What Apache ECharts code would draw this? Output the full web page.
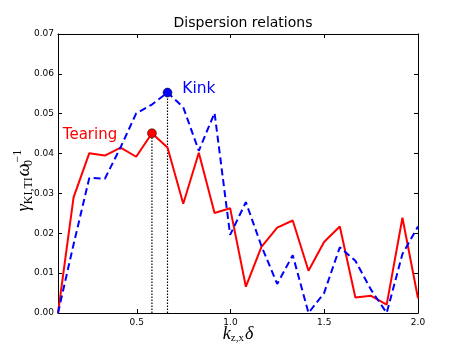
<!DOCTYPE html>
<html>
<head>
<meta charset="utf-8">
<script src="https://cdn.jsdelivr.net/npm/echarts@6/dist/echarts.min.js"></script>
<style>
  html, body { margin: 0; padding: 0; background: #fff; }
  #chart { width: 463px; height: 349px; }
</style>
</head>
<body>
<div id="chart"></div>
<script>
// wavenumbers k_{z,x} delta
const kValues = [0.080, 0.163, 0.247, 0.330, 0.414, 0.497, 0.581, 0.664, 0.748, 0.831, 0.915, 0.998,
  1.082, 1.165, 1.249, 1.332, 1.416, 1.499, 1.583, 1.666, 1.750, 1.833, 1.917, 2.000];
// growth rates, tearing (red, solid)
const tearing = [0, 0.0290, 0.0401, 0.0395, 0.0415, 0.0392, 0.0451, 0.0415, 0.0274, 0.0402, 0.0251, 0.0263,
  0.0066, 0.0166, 0.0214, 0.0232, 0.0106, 0.0178, 0.0217, 0.0039, 0.0043, 0.0021, 0.0239, 0.0037];
// growth rates, kink (blue, dashed)
const kink = [0, 0.0172, 0.0339, 0.0337, 0.0416, 0.0501, 0.0523, 0.0553, 0.0516, 0.0407, 0.0502, 0.0196,
  0.0278, 0.0168, 0.0073, 0.0145, 0.0, 0.0050, 0.0165, 0.0131, 0.0058, 0.0, 0.0148, 0.0217];
const xTicks = [0.5, 1.0, 1.5, 2.0];

function pairs(ys) {
  return ys.map((y, i) => [kValues[i], y]);
}

// find the peak of each mode
function peak(ys) {
  let best = 0;
  ys.forEach((y, i) => { if (y > ys[best]) best = i; });
  return [kValues[best], ys[best]];
}
const tearPeak = peak(tearing);
const kinkPeak = peak(kink);

const chart = echarts.init(document.getElementById("chart"));
const tickStyle = { inside: true, length: 4, lineStyle: { color: "#000", width: 1 } };
const lineStyleAxis = { show: true, onZero: false, lineStyle: { color: "#000", width: 1 } };
const labelFont = { color: "#000", fontSize: 9, fontFamily: "DejaVu Sans" };

const option = {
  animation: false,
  backgroundColor: "#fff",
  title: {
    text: "Dispersion relations",
    left: 238,
    textAlign: "center",
    top: 11,
    textStyle: { fontFamily: "DejaVu Sans", fontSize: 14, fontWeight: "normal", color: "#000" },
  },
  grid: { left: 58, right: 45, top: 34, bottom: 36, show: false, outerBoundsMode: "none", containLabel: false },
  xAxis: [
    {
      type: "value",
      min: 0.08,
      max: 2.0,
      position: "bottom",
      axisLine: lineStyleAxis,
      axisTick: Object.assign({ customValues: xTicks }, tickStyle),
      axisLabel: Object.assign({ customValues: xTicks, margin: 5, formatter: (v) => v.toFixed(1) }, labelFont),
      splitLine: { show: false },
      name: "{k|k}{s|z,x}{d|δ}",
      nameLocation: "middle",
      nameGap: 11,
      nameMoveOverlap: false,
      nameTextStyle: {
        rich: {
          k: { fontFamily: "Liberation Serif", fontStyle: "italic", fontSize: 18, color: "#000", verticalAlign: "middle" },
          s: { fontFamily: "Liberation Serif", fontSize: 11, color: "#000", padding: [9, 1, 0, 0], verticalAlign: "middle" },
          d: { fontFamily: "Liberation Serif", fontStyle: "italic", fontSize: 18, color: "#000", verticalAlign: "middle" },
        },
      },
    },
    {
      type: "value",
      min: 0.08,
      max: 2.0,
      position: "top",
      axisLine: lineStyleAxis,
      axisTick: Object.assign({ customValues: xTicks }, tickStyle),
      axisLabel: { show: false },
      splitLine: { show: false },
    },
  ],
  yAxis: [
    {
      type: "value",
      min: 0,
      max: 0.07,
      interval: 0.01,
      position: "left",
      axisLine: lineStyleAxis,
      axisTick: tickStyle,
      axisLabel: Object.assign({ margin: 4, formatter: (v) => v.toFixed(2) }, labelFont),
      splitLine: { show: false },
      name: "{g|γ}{s|KI,TI}{w|ω}{z|0}{p|−1}",
      nameLocation: "middle",
      nameRotate: 90,
      nameGap: 21,
      nameMoveOverlap: false,
      nameTextStyle: {
        padding: [0, 14, 0, 0],
        rich: {
          g: { fontFamily: "Liberation Serif", fontStyle: "italic", fontSize: 18, color: "#000", verticalAlign: "middle" },
          s: { fontFamily: "Liberation Serif", fontSize: 12, color: "#000", padding: [9, 1, 0, 0], verticalAlign: "middle" },
          w: { fontFamily: "Liberation Serif", fontStyle: "italic", fontSize: 18, color: "#000", verticalAlign: "middle" },
          z: { fontFamily: "Liberation Serif", fontSize: 12, color: "#000", padding: [9, 0, 0, 0], width: 1, verticalAlign: "middle" },
          p: { fontFamily: "Liberation Serif", fontSize: 12, color: "#000", padding: [0, 0, 13, 0], verticalAlign: "middle" },
        },
      },
    },
    {
      type: "value",
      min: 0,
      max: 0.07,
      interval: 0.01,
      position: "right",
      axisLine: lineStyleAxis,
      axisTick: tickStyle,
      axisLabel: { show: false },
      splitLine: { show: false },
    },
  ],
  series: [
    {
      name: "Tearing",
      type: "line",
      data: pairs(tearing),
      showSymbol: false,
      lineStyle: { color: "#ff0000", width: 2 },
      z: 3,
    },
    {
      name: "Kink",
      type: "line",
      data: pairs(kink),
      showSymbol: false,
      lineStyle: { color: "#0000ff", width: 2, type: [7, 4] },
      z: 3,
    },
    {
      name: "tearing marker line",
      type: "line",
      data: [[tearPeak[0], 0], tearPeak],
      showSymbol: false,
      lineStyle: { color: "#000", width: 1.2, type: [1.5, 1.5] },
      z: 2,
    },
    {
      name: "kink marker line",
      type: "line",
      data: [[kinkPeak[0], 0], kinkPeak],
      showSymbol: false,
      lineStyle: { color: "#000", width: 1.2, type: [1.5, 1.5] },
      z: 2,
    },
    {
      name: "tearing peak",
      type: "scatter",
      data: [tearPeak],
      symbolSize: 9,
      itemStyle: { color: "#ff0000", borderColor: "#000", borderWidth: 0.5, opacity: 1 },
      label: {
        show: true, position: "left", distance: 30, offset: [0, 2],
        formatter: "Tearing", color: "#ff0000", fontSize: 15, fontFamily: "DejaVu Sans",
      },
      z: 5,
    },
    {
      name: "kink peak",
      type: "scatter",
      data: [kinkPeak],
      symbolSize: 9,
      itemStyle: { color: "#0000ff", borderColor: "#000", borderWidth: 0.5, opacity: 1 },
      label: {
        show: true, position: "right", distance: 10, offset: [0, -4],
        formatter: "Kink", color: "#0000ff", fontSize: 15.5, fontFamily: "DejaVu Sans",
      },
      z: 5,
    },
  ],
};

chart.setOption(option);
</script>
</body>
</html>
